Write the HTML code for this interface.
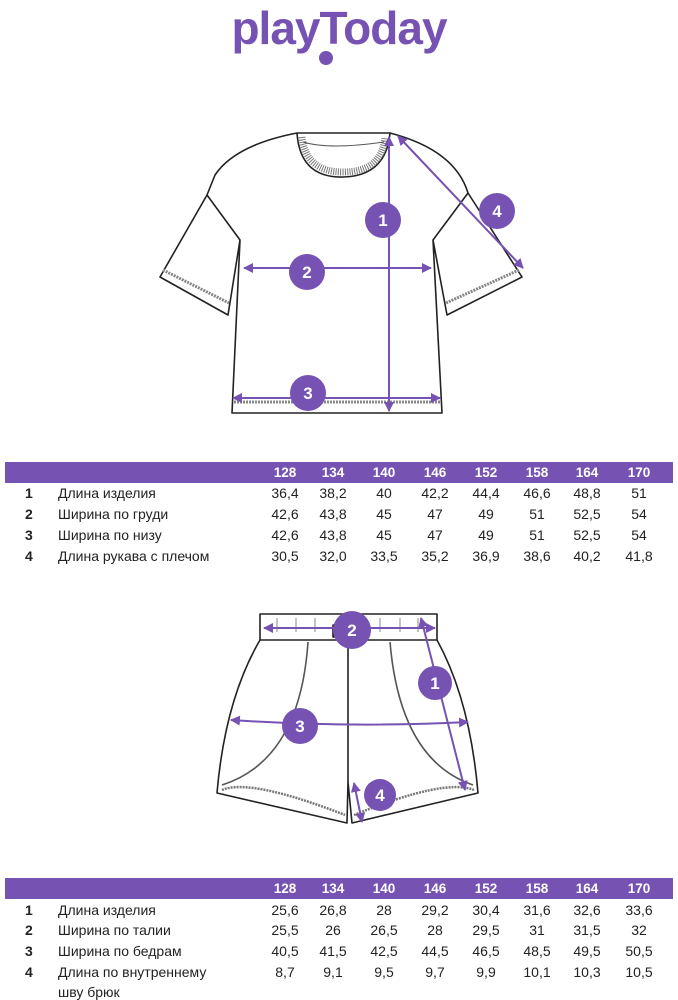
<!DOCTYPE html>
<html><head><meta charset="utf-8"><style>
html,body{margin:0;padding:0;background:#fff;}
svg{display:block;font-family:"Liberation Sans",sans-serif;}
</style></head><body>
<svg width="678" height="1000" viewBox="0 0 678 1000">
<defs>
<marker id="a" viewBox="0 0 10 10" refX="9" refY="5" markerWidth="5" markerHeight="5" orient="auto-start-reverse"><path d="M0,0 L10,5 L0,10 z" fill="#7652b3"/></marker>
</defs>
<text x="339" y="44" text-anchor="middle" font-size="46" font-weight="bold" fill="#7652b3" letter-spacing="-1">playToday</text>
<circle cx="326" cy="58" r="7" fill="#7652b3"/>

<g fill="none" stroke="#222" stroke-width="1.6" stroke-linejoin="round">
<path d="M297,133 Q235,145 215,175 L207,195 L160,277 L228,315 L240,240 L232,413 L442,413 L433,240 L447,315 L522,277 L468,193 Q455,150 390,133"/>
<path d="M297,133 Q300,178 343,177 Q386,176 390,133 Z"/>
<path d="M302,137 Q306,172 343,172 Q382,172 385,137" stroke="#777" stroke-width="7" stroke-dasharray="1 1.3"/>
<path d="M303,142 Q330,150 384,142" stroke="#555" stroke-width="1"/>
<path d="M207,195 L240,240 M468,193 L433,240"/>
<path d="M163,270 L229,303 M519,270 L446,303 M234,402 L440,402" stroke="#888" stroke-width="3" stroke-dasharray="2 1"/>
</g>
<g stroke="#7652b3" stroke-width="2" fill="none">
<line x1="389" y1="137" x2="389" y2="411" marker-start="url(#a)" marker-end="url(#a)"/>
<line x1="244" y1="268" x2="431" y2="268" marker-start="url(#a)" marker-end="url(#a)"/>
<line x1="233" y1="398" x2="440" y2="398" marker-start="url(#a)" marker-end="url(#a)"/>
<line x1="398" y1="136" x2="523" y2="268" marker-start="url(#a)" marker-end="url(#a)"/>
</g>
<g fill="#7652b3"><circle cx="383" cy="220" r="18"/><circle cx="307" cy="272" r="18"/><circle cx="308" cy="393" r="18"/><circle cx="497" cy="211" r="18"/></g>
<g fill="#fff" font-size="17" font-weight="bold" text-anchor="middle"><text x="383" y="226">1</text><text x="307" y="278">2</text><text x="308" y="399">3</text><text x="497" y="217">4</text></g>

<rect x="5" y="462" width="668" height="21" fill="#7652b3"/>
<g fill="#fff" font-size="13.5" font-weight="bold" text-anchor="middle">
<text x="285" y="477">128</text><text x="333" y="477">134</text><text x="384" y="477">140</text><text x="435" y="477">146</text><text x="486" y="477">152</text><text x="537" y="477">158</text><text x="587" y="477">164</text><text x="639" y="477">170</text></g>
<g fill="#222" font-size="14">
<g font-weight="bold"><text x="25" y="498">1</text><text x="25" y="519">2</text><text x="25" y="540">3</text><text x="25" y="561">4</text></g>
<text x="58" y="498">Длина изделия</text><text x="58" y="519">Ширина по груди</text><text x="58" y="540">Ширина по низу</text><text x="58" y="561">Длина рукава с плечом</text>
<g text-anchor="middle">
<text y="498"><tspan x="285">36,4</tspan><tspan x="333">38,2</tspan><tspan x="384">40</tspan><tspan x="435">42,2</tspan><tspan x="486">44,4</tspan><tspan x="537">46,6</tspan><tspan x="587">48,8</tspan><tspan x="639">51</tspan></text>
<text y="519"><tspan x="285">42,6</tspan><tspan x="333">43,8</tspan><tspan x="384">45</tspan><tspan x="435">47</tspan><tspan x="486">49</tspan><tspan x="537">51</tspan><tspan x="587">52,5</tspan><tspan x="639">54</tspan></text>
<text y="540"><tspan x="285">42,6</tspan><tspan x="333">43,8</tspan><tspan x="384">45</tspan><tspan x="435">47</tspan><tspan x="486">49</tspan><tspan x="537">51</tspan><tspan x="587">52,5</tspan><tspan x="639">54</tspan></text>
<text y="561"><tspan x="285">30,5</tspan><tspan x="333">32,0</tspan><tspan x="384">33,5</tspan><tspan x="435">35,2</tspan><tspan x="486">36,9</tspan><tspan x="537">38,6</tspan><tspan x="587">40,2</tspan><tspan x="639">41,8</tspan></text>
</g></g>

<g fill="none" stroke="#222" stroke-width="1.6" stroke-linejoin="round">
<path d="M260,614 L437,614 L437,640 L260,640 Z"/>
<path d="M260,640 Q225,700 217,793 L347,823 L348,782 L352,823 L478,793 Q470,700 437,640"/>
<path d="M348,640 L348,782"/>
<path d="M308,642 Q300,760 222,785 M390,642 Q400,760 473,785" stroke="#555"/>
<path d="M222,790 Q250,778 345,815 M474,790 Q445,778 354,815" stroke="#777" stroke-width="2.5" stroke-dasharray="2 1"/>
<path d="M277,618 V632 M296,618 V632 M315,618 V632 M380,618 V632 M400,618 V632 M418,618 V632" stroke="#888" stroke-width="1"/>
<rect x="333" y="625" width="10" height="12" fill="#222"/>
</g>
<g stroke="#7652b3" stroke-width="2" fill="none">
<line x1="264" y1="628" x2="435" y2="628" marker-start="url(#a)" marker-end="url(#a)"/>
<line x1="421" y1="618" x2="465" y2="790" marker-start="url(#a)" marker-end="url(#a)"/>
<path d="M231,720 Q350,728 468,722" marker-start="url(#a)" marker-end="url(#a)"/>
<line x1="354" y1="783" x2="362" y2="822" marker-start="url(#a)" marker-end="url(#a)"/>
</g>
<g fill="#7652b3"><circle cx="352" cy="630" r="19"/><circle cx="435" cy="683" r="17"/><circle cx="300" cy="726" r="18"/><circle cx="380" cy="795" r="16"/></g>
<g fill="#fff" font-size="17" font-weight="bold" text-anchor="middle"><text x="352" y="636">2</text><text x="435" y="689">1</text><text x="300" y="732">3</text><text x="380" y="801">4</text></g>

<rect x="5" y="878" width="668" height="21" fill="#7652b3"/>
<g fill="#fff" font-size="13.5" font-weight="bold" text-anchor="middle">
<text x="285" y="893">128</text><text x="333" y="893">134</text><text x="384" y="893">140</text><text x="435" y="893">146</text><text x="486" y="893">152</text><text x="537" y="893">158</text><text x="587" y="893">164</text><text x="639" y="893">170</text></g>
<g fill="#222" font-size="14">
<g font-weight="bold"><text x="25" y="915">1</text><text x="25" y="935">2</text><text x="25" y="956">3</text><text x="25" y="977">4</text></g>
<text x="58" y="915">Длина изделия</text><text x="58" y="935">Ширина по талии</text><text x="58" y="956">Ширина по бедрам</text><text x="58" y="977">Длина по внутреннему</text><text x="58" y="997">шву брюк</text>
<g text-anchor="middle">
<text y="915"><tspan x="285">25,6</tspan><tspan x="333">26,8</tspan><tspan x="384">28</tspan><tspan x="435">29,2</tspan><tspan x="486">30,4</tspan><tspan x="537">31,6</tspan><tspan x="587">32,6</tspan><tspan x="639">33,6</tspan></text>
<text y="935"><tspan x="285">25,5</tspan><tspan x="333">26</tspan><tspan x="384">26,5</tspan><tspan x="435">28</tspan><tspan x="486">29,5</tspan><tspan x="537">31</tspan><tspan x="587">31,5</tspan><tspan x="639">32</tspan></text>
<text y="956"><tspan x="285">40,5</tspan><tspan x="333">41,5</tspan><tspan x="384">42,5</tspan><tspan x="435">44,5</tspan><tspan x="486">46,5</tspan><tspan x="537">48,5</tspan><tspan x="587">49,5</tspan><tspan x="639">50,5</tspan></text>
<text y="977"><tspan x="285">8,7</tspan><tspan x="333">9,1</tspan><tspan x="384">9,5</tspan><tspan x="435">9,7</tspan><tspan x="486">9,9</tspan><tspan x="537">10,1</tspan><tspan x="587">10,3</tspan><tspan x="639">10,5</tspan></text>
</g></g>
</svg>
</body></html>
